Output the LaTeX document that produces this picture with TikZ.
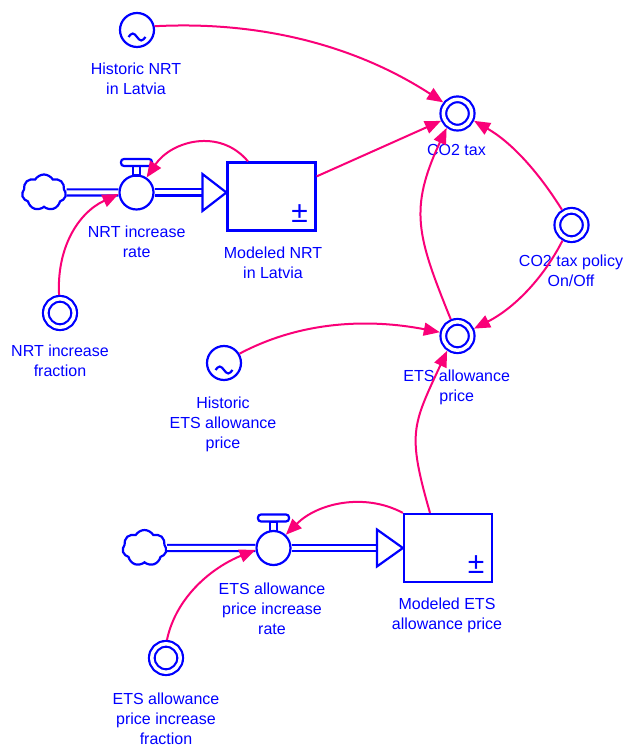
\documentclass[tikz,border=0pt]{standalone}
\usepackage{fontspec}
\setmainfont{Liberation Sans}
\usetikzlibrary{arrows.meta,shapes.symbols,calc}
\definecolor{vblue}{RGB}{0,0,255}
\definecolor{vpink}{RGB}{250,0,120}
\begin{document}
\begin{tikzpicture}[x=1pt,y=1pt,
  every node/.style={inner sep=0pt},
  lbl/.style={text=vblue, align=center, anchor=north, font=\fontsize{16}{20}\selectfont},
  aux/.style={circle, draw=vblue, line width=2.2pt, double=white, double distance=3.5pt,
    minimum size=28.3pt, outer sep=3.95pt},
  source/.style={circle, draw=vblue, line width=2.2pt, minimum size=34pt},
  stock/.style={rectangle, draw=vblue, line width=2.2pt, fill=white,
    minimum width=88pt, minimum height=68pt},
  valve/.style={circle, draw=vblue, line width=2.2pt, fill=white, minimum size=34pt},
  cloudsrc/.style={cloud, draw=vblue, line width=2.2pt, fill=white, cloud puffs=7,
    cloud puff arc=120, aspect=1.3, minimum width=44pt, minimum height=36pt},
  pm/.style={text=vblue, font=\fontsize{30}{30}\selectfont},
  vline/.style={draw=vblue, line width=2.2pt},
  pipe/.style={draw=vblue, line width=2.1pt, double=white, double distance=4pt},
  flowhead/.style={draw=vblue, line width=2.2pt, fill=white, line join=miter},
  conn/.style={draw=vpink, line width=2pt, -{Triangle[length=16pt,width=13pt]}},
]
\fill[white] (0,0) rectangle (624,747);
\useasboundingbox (0,0) rectangle (624,747);

% auxiliaries and data sources
\node[source] (hnrt) at (137,717) {};
\node[lbl] (hnrt-l) at (136,684.7) {Historic NRT\\in Latvia};
\node[aux] (co2) at (457.5,633.5) {};
\node[lbl] (co2-l) at (456.5,602.7) {CO2 tax};
\node[aux] (pol) at (571.5,522) {};
\node[lbl] (pol-l) at (571,492.7) {CO2 tax policy\\On/Off};
\node[aux] (etsp) at (457.5,411) {};
\node[lbl] (etsp-l) at (456.7,377.7) {ETS allowance\\price};
\node[source] (hets) at (224,384) {};
\node[lbl] (hets-l) at (223,350.7) {Historic\\ETS allowance\\price};
\node[aux] (f1) at (60,434) {};
\node[lbl] (f1-l) at (60,402.7) {NRT increase\\fraction};
\node[aux] (f2) at (166,89) {};
\node[lbl] (f2-l) at (166,54.7) {ETS allowance\\price increase\\fraction};

% tilde marks of the data sources
\draw[vline] ([shift={(-8.5,-7)}]hnrt.center) sin ++(4.25,3.5) cos ++(4.25,-3.5) sin ++(4.25,-3.5) cos ++(4.25,3.5);
\draw[vline] ([shift={(-8.5,-7)}]hets.center) sin ++(4.25,3.5) cos ++(4.25,-3.5) sin ++(4.25,-3.5) cos ++(4.25,3.5);

% stocks
\node[stock] (mnrt) at (271.5,550.5) {};
\node[pm] (mnrt-pm) at ([shift={(28,-17)}]mnrt.center) {±};
\node[lbl] (mnrt-l) at (273,500.7) {Modeled NRT\\in Latvia};
\node[stock] (mets) at (448,199) {};
\node[pm] (mets-pm) at ([shift={(28,-17)}]mets.center) {±};
\node[lbl] (mets-l) at (447,149.7) {Modeled ETS\\allowance price};

% flows: clouds, pipes, valves
\node[cloudsrc] (c1) at (44,554.5) {};
\node[cloudsrc] (c2) at (144.5,199) {};
\node[valve] (v1) at (136.5,554.5) {};
\node[lbl] (v1-l) at (136.7,521.7) {NRT increase\\rate};
\node[valve] (v2) at (273.5,199) {};
\node[lbl] (v2-l) at (272,164.7) {ETS allowance\\price increase\\rate};

\coordinate (t1) at (v1 -| mnrt.west);
\coordinate (b1) at ([xshift=-24pt]t1);
\coordinate (t2) at (v2 -| mets.west);
\coordinate (b2) at ([xshift=-26pt]t2);

\draw[pipe] (c1.east) -- (v1.west);
\draw[pipe] (v1.east) -- (b1);
\draw[flowhead] (t1) -- ([yshift=18.5pt]b1) -- ([yshift=-18.5pt]b1) -- cycle;
\draw[pipe] (c2.east) -- (v2.west);
\draw[pipe] (v2.east) -- (b2);
\draw[flowhead] (t2) -- ([yshift=18.5pt]b2) -- ([yshift=-18.5pt]b2) -- cycle;

% valve handles
\draw[vline] ([shift={(-3.5,17)}]v1.center) rectangle ([shift={(3.5,26.5)}]v1.center);
\draw[vline, fill=white, rounded corners=3pt] ([shift={(-15.5,26.5)}]v1.center) rectangle ([shift={(15.5,33.5)}]v1.center);
\draw[vline] ([shift={(-3.5,17)}]v2.center) rectangle ([shift={(3.5,26.5)}]v2.center);
\draw[vline, fill=white, rounded corners=3pt] ([shift={(-15.5,26.5)}]v2.center) rectangle ([shift={(15.5,33.5)}]v2.center);

% causal links
\draw[conn] (hnrt.12) to[out=3,in=147,looseness=0.9] (co2.142);
\draw[conn] (mnrt.24) -- (co2);
\draw[conn] ([xshift=-23.5pt]mnrt.north) to[out=130,in=56,looseness=1.1] (v1.56);
\draw[conn] (f1.93) to[out=93,in=205] (v1.185);
\draw[conn] (etsp.112) to[out=112,in=245,looseness=1.2] (co2.233);
\draw[conn] (pol.122) to[out=122,in=330,looseness=0.9] (co2.336);
\draw[conn] (pol.240) to[out=243,in=27,looseness=0.9] (etsp.24);
\draw[conn] (hets.31) to[out=28,in=169,looseness=0.9] (etsp.168);
\draw[conn] ([xshift=-18pt]mets.north) to[out=106,in=245,looseness=1.3] (etsp.235);
\draw[conn] (mets.north west) to[out=152,in=45,looseness=0.95] (v2.47);
\draw[conn] (f2.87) to[out=78,in=202,looseness=0.92] (v2.186);
\end{tikzpicture}
\end{document}
